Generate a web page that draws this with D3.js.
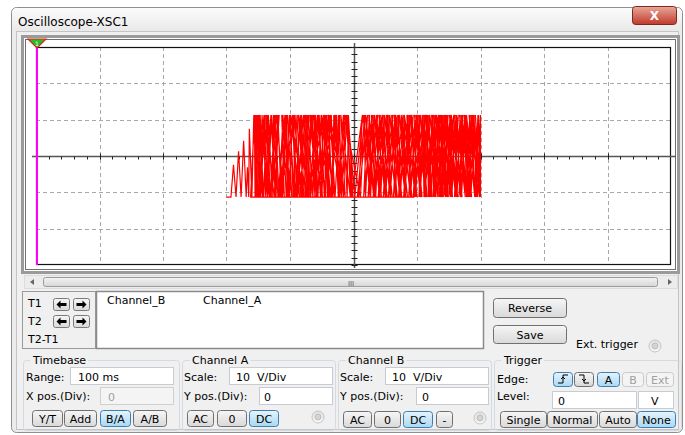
<!DOCTYPE html>
<html>
<head>
<meta charset="utf-8">
<script src="https://cdn.jsdelivr.net/npm/d3@7"></script>
<style>
  body { margin: 0; background: #fff; }
  text { font-family: "DejaVu Sans", sans-serif; font-size: 11px; fill: #000; white-space: pre; }
</style>
</head>
<body>
<script>
// screen divisions (10 across, 6 down) and volts per division
var divsX = [-5, -4, -3, -2, -1, 0, 1, 2, 3, 4, 5];
var divsY = [-3, -2, -1, 0, 1, 2, 3];
var voltsPerDivA = 10, voltsPerDivB = 10;

// B/A trace: [Channel A volts, Channel B volts]
var L = -11.3, H = 11.3;
var trace = [
  [-20, L], [-19.3, L], [-18.9, -2.4], [-18.5, L], [-18.1, 1.3], [-17.7, L], [-17.3, 4.2], [-16.9, L],
  [-16.7, -3.1], [-16.5, L], [-16.4, 7.5], [-16.0, L], [-15.7, H], [-15.3, L], [-15.5, H],
  [-14.3, L], [-14.9, H], [-13.2, L], [-13.8, H], [-12.5, L], [-11.7, H], [-12.9, L], [-12.2, H],
  [-10.9, L], [-11.3, H], [-9.7, L], [-10.4, H], [-11.6, L], [-9.2, H], [-8.5, L], [-9.9, H],
  [-7.8, L], [-8.7, H], [-7.0, L], [-7.5, H], [-9.0, L], [-6.3, H], [-5.7, L], [-6.9, H],
  [-4.9, L], [-5.4, H], [-7.3, L], [-4.5, H], [-3.8, L], [-5.0, H], [-3.0, L], [-3.5, H],
  [-6.0, L], [-2.7, H], [-1.9, L], [-4.0, H], [-1.3, L], [-2.0, H], [-0.5, L], [-0.9, H],
  [0.2, L], [1.5, H], [2.6, L], [1.9, H], [3.4, L], [2.8, H], [4.1, L], [3.6, H], [5.0, L],
  [4.3, H], [5.8, L], [5.2, H], [6.7, L], [6.0, H], [7.3, L], [6.6, H], [8.2, L], [7.5, H],
  [9.0, L], [8.4, H], [9.7, L], [9.1, H], [10.6, L], [9.9, H], [11.4, L], [10.8, H], [12.1, L],
  [11.5, H], [13.0, L], [12.3, H], [13.8, L], [13.1, H], [14.5, L], [13.9, H], [15.3, L],
  [14.7, H], [16.1, L], [15.4, H], [16.9, L], [16.2, H], [17.6, L], [17.0, H], [18.4, L],
  [17.8, H], [19.1, L], [18.5, H], [19.8, L], [19.2, H], [20, L], [20, H],
  [19.5, L], [18.8, H], [18.2, L], [17.5, H], [16.6, L], [17.2, H], [15.9, L], [16.5, H],
  [15.0, L], [15.8, H], [14.2, L], [14.9, H], [13.5, L], [14.1, H], [12.7, L], [13.4, H],
  [11.9, L], [12.6, H], [11.1, L], [11.7, H], [10.3, L], [11.0, H], [9.4, L], [10.2, H],
  [8.7, L], [9.4, H], [7.9, L], [8.6, H], [7.1, L], [7.8, H], [6.3, L], [6.9, H], [5.5, L],
  [6.2, H], [4.7, L], [5.4, H], [3.9, L], [4.6, H], [3.1, L], [3.8, H], [2.3, L], [3.0, H],
  [1.6, L], [2.2, H], [0.8, L], [1.4, H],
  [-0.3, L], [-1.1, H], [-1.6, L], [-2.4, H], [-2.2, L], [-3.1, H], [-3.3, L], [-4.2, H],
  [-4.1, L], [-4.7, H], [-5.2, L], [-6.0, H], [-6.5, L], [-7.1, H], [-7.6, L], [-8.2, H],
  [-8.1, L], [-9.4, H], [-9.3, L], [-10.1, H], [-10.4, L], [-10.8, H], [-11.9, L], [-12.6, H],
  [-12.8, L], [-13.4, H], [-13.6, L], [-14.4, H], [-14.7, L], [-15.2, H], [-15.5, L],
  [-15.0, H], [-14.6, L], [-14.0, H], [-13.5, L], [-12.9, H], [-12.2, L], [-11.9, H], [-11.4, L],
  [-10.7, H], [-10.2, L], [-9.6, H], [-9.1, L], [-8.4, H], [-8.0, L], [-7.3, H], [-6.8, L],
  [-6.1, H], [-5.6, L], [-5.1, H], [-4.6, L], [-3.9, H], [-3.4, L], [-2.8, H], [-2.3, L],
  [-1.6, H], [-1.0, L], [-0.8, H],
  [-0.1, L], [-1.3, H], [-1.9, L], [-2.2, H], [-2.9, L], [-3.7, H], [-4.0, L], [-4.4, H],
  [-5.0, L], [-5.5, H], [-5.9, L], [-6.7, H], [-7.2, L], [-7.7, H], [-8.3, L], [-8.9, H],
  [-9.5, L], [-10.0, H], [-10.6, L], [-11.1, H], [-11.7, L], [-12.4, H], [-13.1, L], [-13.6, H],
  [-14.2, L], [-14.7, H], [-15.1, L], [-15.6, H], [-15.5, L],
  [0.6, L], [1.8, H], [3.2, L], [2.4, H], [4.4, L], [3.3, H], [5.3, L], [4.0, H], [6.1, L],
  [4.9, H], [6.9, L], [5.7, H], [7.6, L], [6.4, H], [8.5, L], [7.2, H], [9.2, L], [8.0, H],
  [10.0, L], [8.9, H], [10.8, L], [9.6, H], [11.6, L], [10.5, H], [12.4, L], [11.3, H],
  [13.3, L], [12.0, H], [14.0, L], [12.9, H], [14.8, L], [13.6, H], [15.6, L], [14.4, H],
  [16.4, L], [15.1, H], [17.1, L], [15.9, H], [17.9, L], [16.7, H], [18.6, L], [17.4, H],
  [19.3, L], [18.2, H], [19.9, L], [18.9, H], [20, L],
  [19.6, H], [19.1, L], [18.6, H], [18.0, L], [17.7, H], [17.0, L], [16.8, H], [16.2, L],
  [16.0, H], [15.3, L], [15.2, H], [14.6, L], [14.3, H], [13.7, L], [13.5, H], [12.9, L],
  [12.8, H], [12.2, L], [11.9, H], [11.3, L], [11.2, H], [10.5, L], [10.4, H], [9.8, L],
  [9.7, H], [9.0, L], [8.8, H], [8.1, L], [8.0, H], [7.4, L], [7.1, H], [6.6, L], [6.5, H],
  [5.8, L], [5.6, H], [5.1, L], [4.8, H], [4.3, L], [4.1, H], [3.5, L], [3.2, H], [2.7, L],
  [2.5, H], [1.9, L], [1.7, H], [1.1, L],
  [-1.5, H], [-2.4, L], [-2.9, H], [-3.6, L], [-4.6, H], [-4.4, L], [-5.7, H], [-6.2, L],
  [-6.5, H], [-7.4, L], [-7.9, H], [-8.8, L], [-9.6, H], [-10.1, L], [-10.6, H], [-11.2, L],
  [-12.0, H], [-12.3, L], [-13.0, H], [-13.9, L], [-14.1, H], [-14.9, L], [-15.4, H],
  [-15.8, 3.0], [-16.2, L], [9.5, L],
  [10.1, H], [10.4, L], [10.9, H], [11.1, L], [11.6, H], [11.8, L], [12.4, H], [12.6, L],
  [13.1, H], [13.3, L], [13.8, H], [14.0, L], [14.6, H], [14.8, L], [15.3, H], [15.5, L],
  [16.0, H], [16.3, L], [16.8, H], [17.0, L], [17.5, H], [17.8, L], [18.3, H], [18.5, L],
  [19.0, H], [19.3, L], [19.7, H], [20, L], [20, H]
];

// panel texts
var readoutHeads = ['Channel_B', 'Channel_A'];
var timebaseBtns = ['Y/T', 'Add', 'B/A', 'A/B'];
var couplingA = ['AC', '0', 'DC'];
var couplingB = ['AC', '0', 'DC', '-'];
var triggerBtns = ['Single', 'Normal', 'Auto', 'None'];

var w = 685, h = 435;
var svg = d3.select('body').append('svg')
  .attr('width', w)
  .attr('height', h);

// gradients for buttons and the title bar
var defs = svg.append('defs');
function grad(id, c1, c2) {
  var g = defs.append('linearGradient').attr('id', id)
    .attr('x1', 0).attr('y1', 0).attr('x2', 0).attr('y2', 1);
  g.append('stop').attr('offset', '0%').attr('stop-color', c1);
  g.append('stop').attr('offset', '100%').attr('stop-color', c2);
}
grad('gBtn', '#f6f6f6', '#d9d9d9');
grad('gAct', '#e6f4fc', '#a9d8f3');
grad('gTitle', '#fbfbfb', '#e9e9e9');
grad('gClose', '#e9a898', '#c0392b');
grad('gThumb', '#f3f3f3', '#d6d6d6');
grad('gRadio', '#e0e0e0', '#fafafa');

// window frame
svg.append('rect')
  .attr('x', 11.5).attr('y', 7.5).attr('width', 671).attr('height', 425)
  .attr('rx', 5)
  .attr('fill', '#ececec').attr('stroke', '#8f8f8f');
svg.append('rect')
  .attr('x', 12).attr('y', 8).attr('width', 670).attr('height', 23)
  .attr('rx', 5)
  .attr('fill', 'url(#gTitle)');
svg.append('rect')
  .attr('x', 16.5).attr('y', 31.5).attr('width', 662).attr('height', 398)
  .attr('fill', '#f0f0f0').attr('stroke', '#c4c4c4');
svg.append('text')
  .attr('x', 18).attr('y', 26)
  .style('font-size', '12px')
  .text('Oscilloscope-XSC1');

// close button
svg.append('rect')
  .attr('x', 632.5).attr('y', 6.5).attr('width', 44).attr('height', 18)
  .attr('rx', 3)
  .attr('fill', 'url(#gClose)').attr('stroke', '#7d2a1e');
svg.append('text')
  .attr('x', 654.5).attr('y', 20)
  .attr('text-anchor', 'middle')
  .style('font-size', '12px').style('font-weight', 'bold').style('fill', '#fff')
  .text('X');

// screen frame
svg.append('rect')
  .attr('x', 22.5).attr('y', 36.5).attr('width', 656).attr('height', 236)
  .attr('fill', '#fff').attr('stroke', '#9a9a9a').attr('stroke-width', 3);
svg.append('rect')
  .attr('x', 25.5).attr('y', 39.5).attr('width', 650).attr('height', 230)
  .attr('fill', '#fff').attr('stroke', '#6f6f6f').attr('stroke-width', 1);

// scales
var x = d3.scaleLinear().domain([-5 * voltsPerDivA, 5 * voltsPerDivA]).range([36, 671]);
var y = d3.scaleLinear().domain([-3 * voltsPerDivB, 3 * voltsPerDivB]).range([265, 47]);

var plot = svg.append('g');

// dashed grid
plot.selectAll('.gx')
  .data(divsX.filter(function (d) { return d !== 0 && Math.abs(d) !== 5; }))
  .enter().append('line')
  .attr('x1', function (d) { return Math.round(x(d * voltsPerDivA)) + 0.5; })
  .attr('x2', function (d) { return Math.round(x(d * voltsPerDivA)) + 0.5; })
  .attr('y1', 47).attr('y2', 265)
  .attr('stroke', '#a8a8a8').attr('stroke-dasharray', '4,3');
plot.selectAll('.gy')
  .data(divsY.filter(function (d) { return d !== 0 && Math.abs(d) !== 3; }))
  .enter().append('line')
  .attr('y1', function (d) { return Math.round(y(d * voltsPerDivB)) + 0.5; })
  .attr('y2', function (d) { return Math.round(y(d * voltsPerDivB)) + 0.5; })
  .attr('x1', 36).attr('x2', 671)
  .attr('stroke', '#a8a8a8').attr('stroke-dasharray', '4,3');

// border
plot.append('rect')
  .attr('x', 36.5).attr('y', 47.5).attr('width', 634).attr('height', 217)
  .attr('fill', 'none').attr('stroke', '#111').attr('stroke-width', 1.2);

// centre axes with minor ticks (5 per division)
var cx = Math.round(x(0)) + 0.5, cy = Math.round(y(0)) + 0.5;
plot.append('line')
  .attr('x1', 32).attr('x2', 676).attr('y1', cy).attr('y2', cy)
  .attr('stroke', '#555').attr('stroke-width', 1.5);
plot.append('line')
  .attr('x1', cx).attr('x2', cx).attr('y1', 43).attr('y2', 268)
  .attr('stroke', '#555').attr('stroke-width', 1.5);
var minorX = d3.range(-25, 25).map(function (i) { return i * voltsPerDivA / 5; });
var minorY = d3.range(-15, 16).map(function (i) { return i * voltsPerDivB / 5; });
plot.selectAll('.tx')
  .data(minorX)
  .enter().append('line')
  .attr('x1', function (d) { return Math.round(x(d)) + 0.5; })
  .attr('x2', function (d) { return Math.round(x(d)) + 0.5; })
  .attr('y1', function (d) { return d % voltsPerDivA === 0 ? cy - 3 : cy; })
  .attr('y2', cy + 3)
  .attr('stroke', '#222');
plot.selectAll('.ty')
  .data(minorY)
  .enter().append('line')
  .attr('y1', function (d) { return Math.round(y(d)) + 0.5; })
  .attr('y2', function (d) { return Math.round(y(d)) + 0.5; })
  .attr('x1', cx - 3).attr('x2', cx + 3)
  .attr('stroke', '#222');

// trace
var line = d3.line()
  .x(function (d) { return x(d[0]); })
  .y(function (d) { return y(d[1]); });
plot.append('path')
  .datum(trace)
  .attr('d', line)
  .attr('fill', 'none')
  .attr('stroke', '#ff0000')
  .attr('stroke-width', 1.2)
  .attr('stroke-linejoin', 'miter');

// T1 cursor
plot.append('line')
  .attr('x1', 37).attr('x2', 37).attr('y1', 44).attr('y2', 265)
  .attr('stroke', '#ff00ff').attr('stroke-width', 2);
plot.append('path')
  .attr('d', 'M28,39 L46,39 L37,48 Z')
  .attr('fill', '#22c022').attr('stroke', '#e02020').attr('stroke-width', 1.2);
plot.append('text')
  .attr('x', 37).attr('y', 45.5).attr('text-anchor', 'middle')
  .style('font-size', '6px').style('fill', '#fff')
  .text('1');

// scroll bar
svg.append('rect')
  .attr('x', 24.5).attr('y', 275.5).attr('width', 653).attr('height', 13)
  .attr('fill', '#ececec').attr('stroke', '#dcdcdc');
svg.append('path').attr('d', 'M34,279 L30,282 L34,285 Z').attr('fill', '#666');
svg.append('path').attr('d', 'M668,279 L672,282 L668,285 Z').attr('fill', '#666');
svg.append('rect')
  .attr('x', 43.5).attr('y', 277.5).attr('width', 614).attr('height', 9)
  .attr('rx', 2)
  .attr('fill', 'url(#gThumb)').attr('stroke', '#9c9c9c');
svg.append('text')
  .attr('x', 351).attr('y', 285.5).attr('text-anchor', 'middle')
  .style('font-size', '7px').style('fill', '#555')
  .text('III');

// cursor panel
svg.append('rect')
  .attr('x', 22.5).attr('y', 291.5).attr('width', 73).attr('height', 57)
  .attr('fill', '#f0f0f0').attr('stroke', '#9a9a9a');
[['T1', 307], ['T2', 325], ['T2-T1', 343]].forEach(function (t) {
  svg.append('text').attr('x', 28).attr('y', t[1]).text(t[0]);
});
function arrowBtn(x0, y0, dir) {
  svg.append('rect')
    .attr('x', x0 + 0.5).attr('y', y0 + 0.5).attr('width', 16).attr('height', 12)
    .attr('rx', 2)
    .attr('fill', 'url(#gBtn)').attr('stroke', '#7a7a7a');
  var m = x0 + 8.5, c = y0 + 6.5;
  var d = dir < 0
    ? 'M' + (m - 5) + ',' + c + ' L' + (m - 1) + ',' + (c - 4) + ' L' + (m - 1) + ',' + (c - 1.5) + ' L' + (m + 5) + ',' + (c - 1.5) + ' L' + (m + 5) + ',' + (c + 1.5) + ' L' + (m - 1) + ',' + (c + 1.5) + ' L' + (m - 1) + ',' + (c + 4) + ' Z'
    : 'M' + (m + 5) + ',' + c + ' L' + (m + 1) + ',' + (c - 4) + ' L' + (m + 1) + ',' + (c - 1.5) + ' L' + (m - 5) + ',' + (c - 1.5) + ' L' + (m - 5) + ',' + (c + 1.5) + ' L' + (m + 1) + ',' + (c + 1.5) + ' L' + (m + 1) + ',' + (c + 4) + ' Z';
  svg.append('path').attr('d', d).attr('fill', '#000');
}
arrowBtn(53, 298, -1); arrowBtn(73, 298, 1);
arrowBtn(53, 315, -1); arrowBtn(73, 315, 1);

// readout box
svg.append('rect')
  .attr('x', 96.5).attr('y', 291.5).attr('width', 387).attr('height', 57)
  .attr('fill', '#fff').attr('stroke', '#8a8a8a').attr('stroke-width', 1.5);
svg.selectAll('.head')
  .data(readoutHeads)
  .enter().append('text')
  .attr('x', function (d, i) { return 107 + i * 96; })
  .attr('y', 304)
  .text(function (d) { return d; });

// generic push button
function button(x0, y0, bw, bh, label, state) {
  svg.append('rect')
    .attr('x', x0 + 0.5).attr('y', y0 + 0.5).attr('width', bw).attr('height', bh)
    .attr('rx', 3)
    .attr('fill', state === 'on' ? 'url(#gAct)' : (state === 'off' ? '#f4f4f4' : 'url(#gBtn)'))
    .attr('stroke', state === 'on' ? '#3c7fb1' : (state === 'off' ? '#c9c9c9' : '#707070'));
  if (label) {
    svg.append('text')
      .attr('x', x0 + 0.5 + bw / 2).attr('y', y0 + bh / 2 + 4.5)
      .attr('text-anchor', 'middle')
      .style('fill', state === 'off' ? '#a0a0a0' : '#000')
      .text(label);
  }
}
button(493, 298, 73, 19, 'Reverse');
button(493, 325, 73, 18, 'Save');
svg.append('text').attr('x', 576).attr('y', 348).text('Ext. trigger');

function radio(cx0, cy0) {
  svg.append('circle').attr('cx', cx0).attr('cy', cy0).attr('r', 6)
    .attr('fill', 'url(#gRadio)').attr('stroke', '#c4c4c4');
  svg.append('circle').attr('cx', cx0).attr('cy', cy0).attr('r', 3)
    .attr('fill', '#d4d4d4').attr('stroke', '#bdbdbd');
}
radio(655, 346);

// group boxes
function group(x0, x1, label) {
  svg.append('rect')
    .attr('x', x0 + 0.5).attr('y', 360.5).attr('width', x1 - x0).attr('height', 70)
    .attr('rx', 3)
    .attr('fill', 'none').attr('stroke', '#d3dbe2');
  var t = svg.append('text').attr('x', x0 + 10).attr('y', 364).text(label);
  var bb = t.node().getBBox();
  svg.insert('rect', function () { return t.node(); })
    .attr('x', bb.x - 2).attr('y', 358).attr('width', bb.width + 4).attr('height', 5)
    .attr('fill', '#f0f0f0');
}
group(23, 179, 'Timebase');
group(182, 335, 'Channel A');
group(338, 491, 'Channel B');
group(494, 681, 'Trigger');

function field(x0, y0, fw, fh, value, disabled, tx) {
  svg.append('rect')
    .attr('x', x0 + 0.5).attr('y', y0 + 0.5).attr('width', fw).attr('height', fh)
    .attr('fill', disabled ? '#f4f4f4' : '#fff')
    .attr('stroke', disabled ? '#d0d0d0' : '#c8ccd2');
  svg.append('text')
    .attr('x', tx || (x0 + 8)).attr('y', y0 + fh / 2 + 5)
    .style('fill', disabled ? '#a0a0a0' : '#000')
    .text(value);
}

// timebase
svg.append('text').attr('x', 26).attr('y', 381).text('Range:');
field(70, 367, 103, 17, '100 ms', false, 78);
svg.append('text').attr('x', 26).attr('y', 400).text('X pos.(Div):');
field(100, 387, 73, 17, '0', true, 108);
var tbX = [32, 64, 100, 133], tbW = [30, 32, 30, 33];
timebaseBtns.forEach(function (b, i) {
  button(tbX[i], 410, tbW[i], 16, b, b === 'B/A' ? 'on' : '');
});

// channel A
svg.append('text').attr('x', 184).attr('y', 381).text('Scale:');
field(229, 367, 103, 17, voltsPerDivA + '\u00a0\u00a0V/Div', false, 236);
svg.append('text').attr('x', 184).attr('y', 400).text('Y pos.(Div):');
field(259, 387, 73, 17, '0', false, 264);
var caX = [187, 217, 249], caW = [26, 29, 29];
couplingA.forEach(function (b, i) {
  button(caX[i], 410, caW[i], 16, b, b === 'DC' ? 'on' : '');
});
radio(318, 417);

// channel B
svg.append('text').attr('x', 340).attr('y', 381).text('Scale:');
field(385, 367, 103, 17, voltsPerDivB + '\u00a0\u00a0V/Div', false, 392);
svg.append('text').attr('x', 340).attr('y', 400).text('Y pos.(Div):');
field(416, 387, 72, 17, '0', false, 422);
var cbX = [343, 374, 403, 436], cbW = [28, 26, 29, 16];
couplingB.forEach(function (b, i) {
  button(cbX[i], 411, cbW[i], 16, b, b === 'DC' ? 'on' : '');
});
radio(480, 418);

// trigger
svg.append('text').attr('x', 497).attr('y', 383).text('Edge:');
button(553, 372, 19, 14, '', 'on');
button(574, 372, 19, 14, '');
svg.append('path').attr('d', 'M558,383 L563,383 L563,375 L568,375 M561,379 L563,377 L565,379')
  .attr('fill', 'none').attr('stroke', '#000');
svg.append('path').attr('d', 'M579,375 L584,375 L584,383 L589,383 M582,379 L584,381 L586,379')
  .attr('fill', 'none').attr('stroke', '#000');
button(597, 372, 22, 14, 'A', 'on');
button(622, 372, 21, 14, 'B', 'off');
button(646, 372, 27, 14, 'Ext', 'off');
svg.append('text').attr('x', 497).attr('y', 400).text('Level:');
field(552, 391, 84, 17, '0', false, 558);
field(638, 391, 35, 17, 'V', false, 651);
var trX = [500, 547, 599, 637], trW = [46, 50, 37, 38];
triggerBtns.forEach(function (b, i) {
  button(trX[i], 411, trW[i], 16, b, b === 'None' ? 'on' : '');
});
</script>
</body>
</html>
